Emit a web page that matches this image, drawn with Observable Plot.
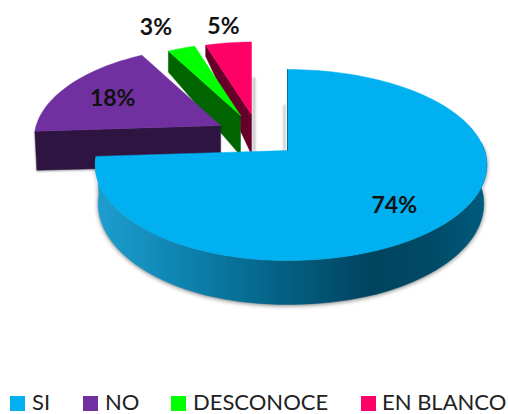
<!DOCTYPE html>
<html><head><meta charset="utf-8">
<script src="https://cdn.jsdelivr.net/npm/d3@7"></script>
<script src="https://cdn.jsdelivr.net/npm/@observablehq/plot@0.6"></script>
<style>
html,body{margin:0;padding:0;background:#fff;overflow:hidden}
#legend{display:block;position:relative;height:28px;font:22px Lato,sans-serif;color:#222;white-space:nowrap}
#legend span{position:absolute;top:4px;line-height:24px;height:24px}
#legend i{position:absolute;top:10px;width:15px;height:15px}
</style></head><body>
<div id="chart"></div><div id="legend"></div>
<script>
const categories = ["SI", "NO", "DESCONOCE", "EN BLANCO"];
const shares = [74, 18, 3, 5];
const topColors = ["#00B0F0", "#7030A0", "#00FF00", "#FF0066"];
const sideColors = ["url(#blueSide)", "#2E1440", "#006400", "#66002B"];
// drawing layout of the exploded 3D pie
const apexX = [287, 220, 240, 251];
const apexY = [150, 125, 115, 114];
const radii = [1, 0.97, 0.88, 0.88];
const rimDepth = [44, 39, 21, 11];
const apexDepth = [44, 40, 40, 40];
const labelRadii = [0.72, 0.66, 1.2, 1.1];
const labelDx = [-5, -3, -7, 0];
const labelDy = [5, 1, 0, -1];

const W = 508, H = 386;
const tilt = 0.152, ry = 93.3, rxL = 190, rxR = 197;
function project(i, deg, r) {
  const a = deg * Math.PI / 180, X = Math.sin(a) * r, Y = Math.cos(a) * r, w = 1 + tilt * Y;
  const rx = X < 0 ? rxL : rxR;
  return {x: apexX[i] + X * rx / w, y: apexY[i] - Y * ry / w};
}
const total = d3.sum(shares);
let acc = 0;
const slices = shares.map((v, i) => {
  const a0 = acc / total * 360; acc += v; const a1 = acc / total * 360;
  return {i, a0, a1, name: categories[i]};
});
function arc(s, from, to, r) {
  const n = Math.max(2, Math.ceil(Math.abs(to - from) / 2));
  return d3.range(n + 1).map(k => project(s.i, from + (to - from) * k / n, r));
}
const apex = s => ({x: apexX[s.i], y: apexY[s.i]});
const topFace = s => [apex(s), ...arc(s, s.a0, s.a1, radii[s.i]), apex(s)];
const poly = (pts, color, extra = {}) => Plot.line(pts, {x: "x", y: "y", fill: color, stroke: color, strokeWidth: 0.5, curve: "linear", ...extra});
const shadow = f => (idx, sc, v, d, c, next) => { const g = next(idx, sc, v, d, c); g.style.filter = f; return g; };

// blue outer wall
const blue = slices[0];
const rimTop = arc(blue, 85, blue.a1, 1);
const blueWall = [...rimTop, ...rimTop.slice().reverse().map(p => ({x: apexX[0] + (p.x - apexX[0]) * 0.985, y: p.y + (apexDepth[0] * (0.86 + 0.14 * Math.min(1, Math.max(0, (p.y - 150) / 100))))}))];
// blue inner back edge
const blueEdge = [apex(blue), project(0, 0, 1)];

// straight wall of an exploded slice, between its apex and one rim corner
function wall(s, deg) {
  const rim = project(s.i, deg, radii[s.i]), a = apex(s);
  return [a, rim, {x: rim.x + 2 * (s.i === 1), y: rim.y + rimDepth[s.i]}, {x: a.x, y: a.y + apexDepth[s.i]}, a];
}
const labelOf = s => {
  const p = project(s.i, (s.a0 + s.a1) / 2, labelRadii[s.i]);
  return {x: p.x + labelDx[s.i], y: p.y + labelDy[s.i], text: shares[s.i] + "%"};
};
const defs = () => {
  const svg = d3.create("svg:defs");
  const g = svg.append("linearGradient").attr("id", "blueSide").attr("gradientUnits", "userSpaceOnUse")
    .attr("x1", 94).attr("x2", 487).attr("y1", 0).attr("y2", 0);
  [[0, "#1E9FD0"], [0.2, "#0F86B4"], [0.45, "#056488"], [0.7, "#00445F"], [0.85, "#004A66"], [1, "#005C7E"]]
    .forEach(([o, c]) => g.append("stop").attr("offset", o).attr("stop-color", c));
  return svg.node();
};
const shade = Plot.line([{x: apexX[3] + 2.5, y: apexY[3] - 36}, {x: apexX[3] + 2.5, y: 150}], {x: "x", y: "y", stroke: "#bbb", strokeWidth: 2.5, render: shadow("blur(1px)")});
const smudge = Plot.line([{x: apexX[0] - 3, y: apexY[0] - 45}, {x: apexX[0] - 3, y: apexY[0]}], {x: "x", y: "y", stroke: "#bbb", strokeWidth: 2, render: shadow("blur(1px)")});

const chart = Plot.plot({
  width: W, height: H, margin: 0,
  x: {domain: [0, W], range: [0, W], axis: null},
  y: {domain: [0, H], range: [0, H], axis: null},
  style: {background: "#fff"},
  marks: [
    defs,
    shade,
    // pink
    poly(wall(slices[3], slices[3].a0), sideColors[3]),
    poly(topFace(slices[3]), topColors[3]),
    // green
    poly(wall(slices[2], slices[2].a0), sideColors[2]),
    poly(topFace(slices[2]), topColors[2]),
    // purple
    poly(wall(slices[1], slices[1].a0), sideColors[1], {render: shadow("drop-shadow(0 1px 1px rgba(0,0,0,.35))")}),
    poly(topFace(slices[1]), topColors[1]),
    smudge,
    // blue
    poly(blueWall, sideColors[0], {render: shadow("drop-shadow(0 1px 2px rgba(0,0,0,.5))")}),
    poly(topFace(blue), topColors[0]),
    Plot.line(blueEdge, {x: "x", y: "y", stroke: "#0A6E96", strokeWidth: 1}),
    Plot.text(slices.map(labelOf), {x: "x", y: "y", text: "text", fontFamily: "Lato", fontWeight: 700, fontSize: 23, fill: "#111", lineAnchor: "middle", textAnchor: "middle"})
  ]
});
document.getElementById("chart").appendChild(chart);
chart.style.display = "block";

const legendSwatch = [10, 83, 171, 361];
const legendText = [32, 105, 193, 382];
const legend = document.getElementById("legend");
categories.forEach((c, i) => {
  const sw = document.createElement("i");
  sw.style.left = legendSwatch[i] + "px"; sw.style.background = topColors[i];
  const t = document.createElement("span");
  t.style.left = legendText[i] + "px"; t.textContent = c;
  legend.append(sw, t);
});
</script></body></html>
